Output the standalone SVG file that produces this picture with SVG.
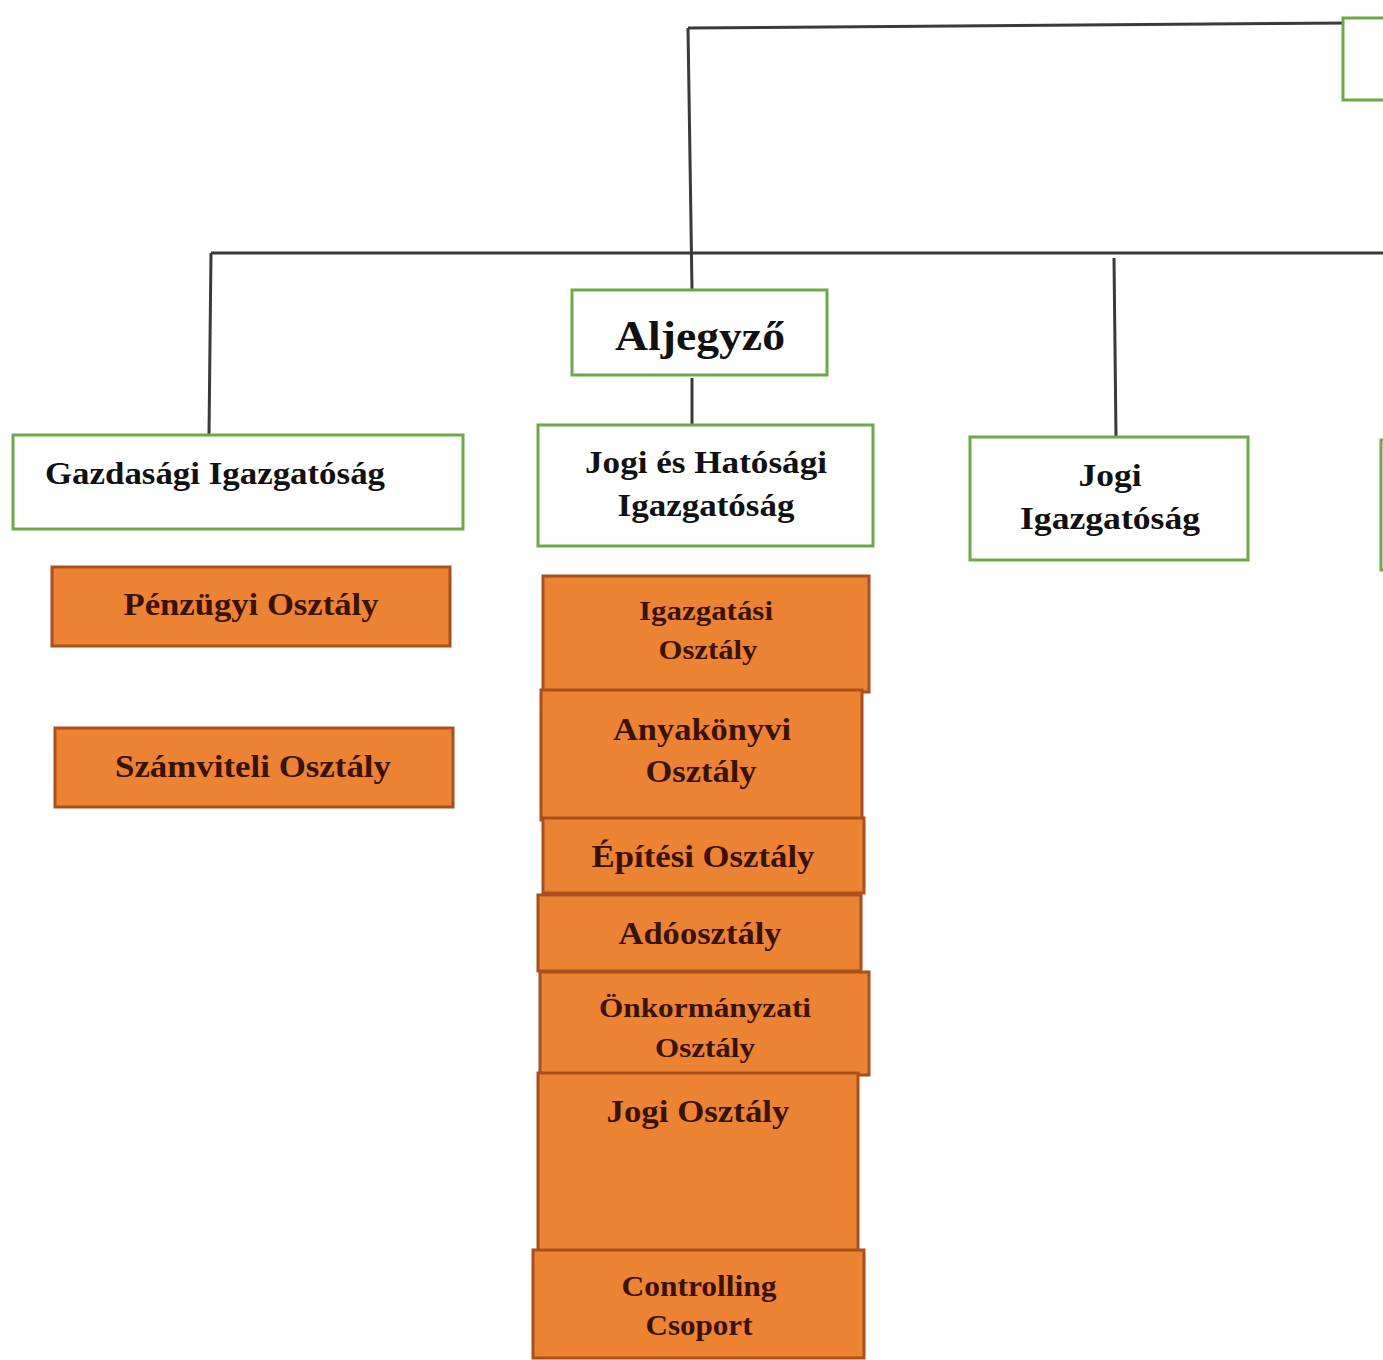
<svg xmlns="http://www.w3.org/2000/svg" width="1383" height="1360" viewBox="0 0 1383 1360">
<style>
.g{fill:#ffffff;stroke:#6fa84a;stroke-width:3}
.o{fill:#ec8333;stroke:#a9501c;stroke-width:3}
.c{fill:none;stroke:#3a3a3a;stroke-width:3}
.t{font-family:"Liberation Serif","Times New Roman",serif;font-weight:bold;fill:#111;text-anchor:middle}
.to{font-family:"Liberation Serif","Times New Roman",serif;font-weight:bold;fill:#3a1204;text-anchor:middle}
</style>
<rect width="1383" height="1360" fill="#ffffff"/>
<g id="connectors">
<path class="c" d="M688 28 L1352 23"/>
<path class="c" d="M688 28 L692 290"/>
<path class="c" d="M211 253 L1383 253"/>
<path class="c" d="M211 253 L209 435"/>
<path class="c" d="M1114 258 L1116 437"/>
<path class="c" d="M692 378 L692 425"/>
</g>
<g id="top-right-box"><rect class="g" x="1343" y="18" width="50" height="82"/></g>
<g id="right-partial-box"><rect class="g" x="1381" y="440" width="20" height="130"/></g>
<g id="gazdasagi"><rect class="g" x="13" y="435" width="450" height="94"/><text class="t" x="215" y="484" font-size="32" textLength="340" lengthAdjust="spacingAndGlyphs">Gazdasági Igazgatóság</text></g>
<g id="aljegyzo"><rect class="g" x="572" y="290" width="255" height="85"/><text class="t" x="700" y="350" font-size="43" textLength="170" lengthAdjust="spacingAndGlyphs">Aljegyző</text></g>
<g id="jogi-hatosagi"><rect class="g" x="538" y="425" width="335" height="121"/><text class="t" x="706" y="473" font-size="32" textLength="242" lengthAdjust="spacingAndGlyphs">Jogi és Hatósági</text><text class="t" x="706" y="516" font-size="32" textLength="177" lengthAdjust="spacingAndGlyphs">Igazgatóság</text></g>
<g id="jogi-igazgatosag"><rect class="g" x="970" y="437" width="278" height="123"/><text class="t" x="1110" y="486" font-size="32" textLength="63" lengthAdjust="spacingAndGlyphs">Jogi</text><text class="t" x="1110" y="529" font-size="32" textLength="180" lengthAdjust="spacingAndGlyphs">Igazgatóság</text></g>
<g id="penzugyi"><rect class="o" x="52" y="567" width="398" height="79"/><text class="to" x="251" y="615" font-size="31" textLength="255" lengthAdjust="spacingAndGlyphs">Pénzügyi Osztály</text></g>
<g id="szamviteli"><rect class="o" x="55" y="728" width="398" height="79"/><text class="to" x="253" y="777" font-size="31" textLength="276" lengthAdjust="spacingAndGlyphs">Számviteli Osztály</text></g>
<g id="igazgatasi"><rect class="o" x="543" y="576" width="326" height="116"/><text class="to" x="706" y="620" font-size="28" textLength="134" lengthAdjust="spacingAndGlyphs">Igazgatási</text><text class="to" x="708" y="659" font-size="28" textLength="99" lengthAdjust="spacingAndGlyphs">Osztály</text></g>
<g id="anyakonyvi"><rect class="o" x="541" y="690" width="321" height="130"/><text class="to" x="702" y="740" font-size="31" textLength="178" lengthAdjust="spacingAndGlyphs">Anyakönyvi</text><text class="to" x="701" y="782" font-size="31" textLength="111" lengthAdjust="spacingAndGlyphs">Osztály</text></g>
<g id="epitesi"><rect class="o" x="543" y="818" width="321" height="75"/><text class="to" x="703" y="867" font-size="31" textLength="223" lengthAdjust="spacingAndGlyphs">Építési Osztály</text></g>
<g id="adoosztaly"><rect class="o" x="538" y="895" width="323" height="76"/><text class="to" x="700" y="944" font-size="31" textLength="163" lengthAdjust="spacingAndGlyphs">Adóosztály</text></g>
<g id="onkormanyzati"><rect class="o" x="540" y="972" width="329" height="103"/><text class="to" x="705" y="1017" font-size="28" textLength="212" lengthAdjust="spacingAndGlyphs">Önkormányzati</text><text class="to" x="705" y="1057" font-size="28" textLength="100" lengthAdjust="spacingAndGlyphs">Osztály</text></g>
<g id="jogi-osztaly"><rect class="o" x="538" y="1073" width="320" height="191"/><text class="to" x="698" y="1122" font-size="31" textLength="183" lengthAdjust="spacingAndGlyphs">Jogi Osztály</text></g>
<g id="controlling"><rect class="o" x="533" y="1250" width="331" height="108"/><text class="to" x="699" y="1296" font-size="29" textLength="155" lengthAdjust="spacingAndGlyphs">Controlling</text><text class="to" x="699" y="1335" font-size="29" textLength="107" lengthAdjust="spacingAndGlyphs">Csoport</text></g>
</svg>
